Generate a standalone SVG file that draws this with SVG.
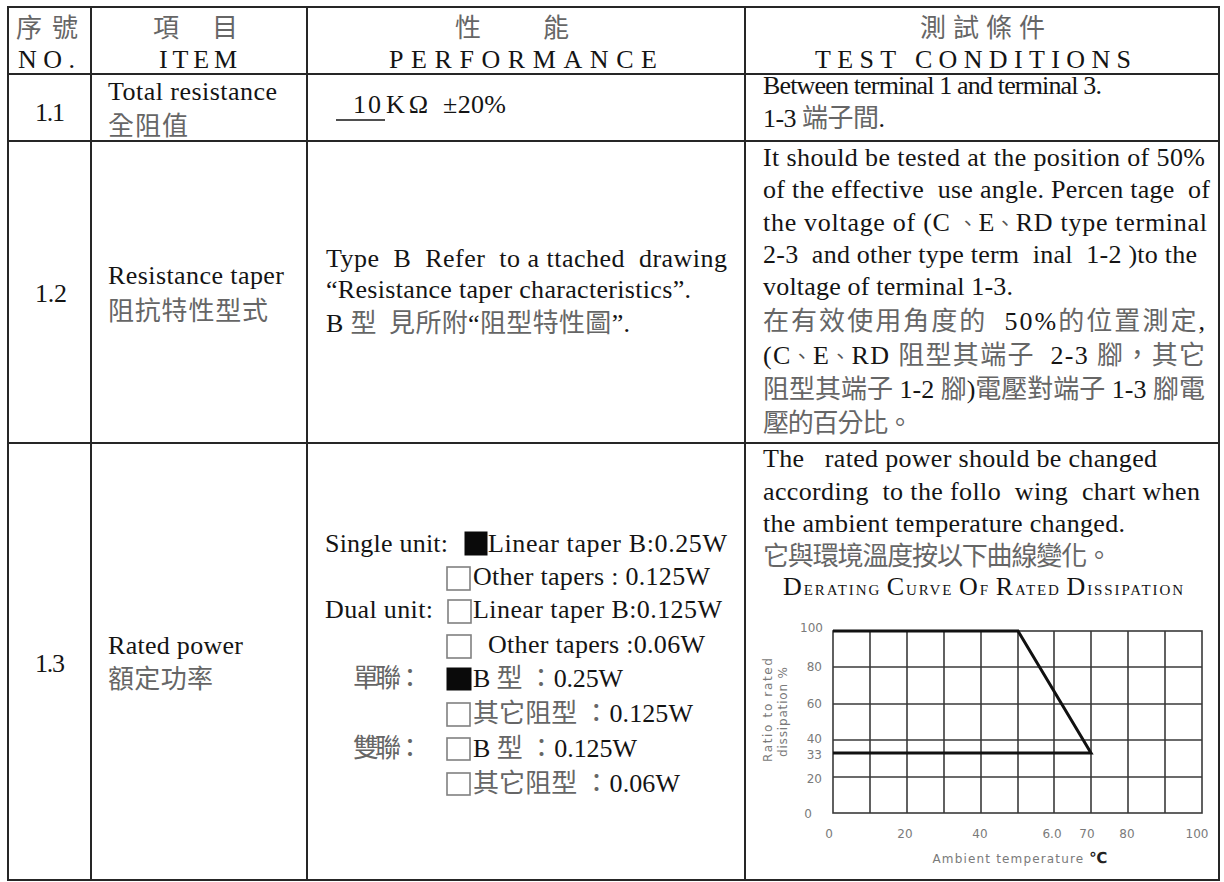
<svg xmlns="http://www.w3.org/2000/svg" width="1224" height="882" viewBox="0 0 1224 882">
<style>
.ln{stroke:#262626;stroke-width:2;fill:none}
.en{font-family:"Liberation Serif","Times New Roman",serif;font-size:26px;fill:#141414}
.zh{font-family:"Noto Sans CJK TC","Noto Sans CJK SC",sans-serif;font-size:26px;fill:#666}
.pu{font-family:"Noto Sans CJK TC","Noto Sans CJK SC",sans-serif;font-size:20px;fill:#555}
.pre{white-space:pre}
.cb{fill:#fff;stroke:#808080;stroke-width:1.6}
.cbf{fill:#0a0a0a;stroke:#0a0a0a;stroke-width:1}
.grid{stroke:#3a3a3a;stroke-width:1.6;fill:none}
.curve{stroke:#111;stroke-width:3;fill:none;stroke-linejoin:miter}
.ax{font-family:"DejaVu Sans",sans-serif;font-size:12px;fill:#7a7a7a}
</style>
<rect width="1224" height="882" fill="#fff"/>
<g id="table-lines">
<rect class="ln" x="8" y="7" width="1211" height="873"/>
<line class="ln" x1="91" y1="7" x2="91" y2="880"/>
<line class="ln" x1="307" y1="7" x2="307" y2="880"/>
<line class="ln" x1="745" y1="7" x2="745" y2="880"/>
<line class="ln" x1="8" y1="74" x2="1219" y2="74"/>
<line class="ln" x1="8" y1="141" x2="1219" y2="141"/>
<line class="ln" x1="8" y1="443" x2="1219" y2="443"/>
</g>
<g id="header">
<text class="zh" x="16" y="37" font-size="25" textLength="62" fill="#777">序號</text>
<text class="en" x="18" y="68" textLength="57">NO.</text>
<text class="zh" x="153" y="37" font-size="25" fill="#777">項</text>
<text class="zh" x="212" y="37" font-size="25" fill="#777">目</text>
<text class="en" x="159" y="68" textLength="78">ITEM</text>
<text class="zh" x="455" y="37" font-size="25" fill="#777">性</text>
<text class="zh" x="543" y="37" font-size="25" fill="#777">能</text>
<text class="en" x="389" y="68" textLength="268">PERFORMANCE</text>
<text class="zh" x="920" y="37" font-size="25" textLength="125" fill="#777">測試條件</text>
<text class="en" x="815" y="68" textLength="316">TEST CONDITIONS</text>
</g>
<g id="row-1-1">
<text class="en" x="35" y="121" textLength="30">1.1</text>
<text class="en" x="108" y="100" textLength="169">Total resistance</text>
<text class="zh" x="108" y="135" textLength="80">全阻值</text>
<line x1="336" y1="120" x2="385" y2="120" stroke="#141414" stroke-width="1.6"/>
<text class="en" x="353" y="113" textLength="28">10</text>
<text class="en" x="386" y="113" textLength="42">KΩ</text>
<text class="en" x="443" y="113" font-size="22" textLength="63">±20%</text>
<text class="en" x="763" y="94" font-size="24" textLength="339">Between terminal 1 and terminal 3.</text>
<text class="en" x="763" y="127" textLength="122">1-3 <tspan class="zh">端子間</tspan>.</text>
</g>
<g id="row-1-2">
<text class="en" x="35" y="302" textLength="32">1.2</text>
<text class="en" x="108" y="284" textLength="176">Resistance taper</text>
<text class="zh" x="108" y="320" font-size="25" textLength="160">阻抗特性型式</text>
<text class="en pre" x="326" y="267" textLength="401">Type  B  Refer  to a ttached  drawing</text>
<text class="en" x="326" y="298" textLength="365">“Resistance taper characteristics”.</text>
<text class="en pre" x="326" y="332" textLength="304">B <tspan class="zh">型  見所附</tspan>“<tspan class="zh">阻型特性圖</tspan>”.</text>
<text class="en" x="763" y="166" textLength="442">It should be tested at the position of 50%</text>
<text class="en pre" x="763" y="198" textLength="447">of the effective  use angle. Percen tage  of</text>
<text class="en pre" x="763" y="231" textLength="444">the voltage of (C <tspan class="pu">、</tspan>E<tspan class="pu">、</tspan>RD type terminal</text>
<text class="en pre" x="763" y="263" textLength="434">2-3  and other type term  inal  1-2 )to the</text>
<text class="en" x="763" y="295" textLength="250">voltage of terminal 1-3.</text>
<text class="en pre" x="763" y="330" textLength="442"><tspan class="zh">在有效使用角度的</tspan>  50%<tspan class="zh">的位置測定</tspan>,</text>
<text class="en pre" x="763" y="364" textLength="442">(C<tspan class="pu">、</tspan>E<tspan class="pu">、</tspan>RD <tspan class="zh">阻型其端子</tspan>  2-3 <tspan class="zh">腳，其它</tspan></text>
<text class="en pre" x="763" y="398" textLength="442"><tspan class="zh">阻型其端子</tspan> 1-2 <tspan class="zh">腳</tspan>)<tspan class="zh">電壓對端子</tspan> 1-3 <tspan class="zh">腳電</tspan></text>
<text class="zh" x="763" y="432" font-size="25" textLength="150">壓的百分比。</text>
</g>
<g id="row-1-3">
<text class="en" x="35" y="672" textLength="30">1.3</text>
<text class="en" x="108" y="654" textLength="135">Rated power</text>
<text class="zh" x="108" y="688" textLength="105">額定功率</text>
<text class="en" x="325" y="552" textLength="123">Single unit:</text>
<rect class="cbf" x="465" y="532" width="22" height="23"/>
<text class="en" x="488" y="552" textLength="239">Linear taper B:0.25W</text>
<rect class="cb" x="447" y="567" width="23" height="23"/>
<text class="en" x="473" y="585" textLength="237">Other tapers : 0.125W</text>
<text class="en" x="325" y="618" textLength="108">Dual unit:</text>
<rect class="cb" x="448" y="600" width="23" height="23"/>
<text class="en" x="473" y="618" textLength="249">Linear taper B:0.125W</text>
<rect class="cb" x="447" y="635" width="24" height="23"/>
<text class="en" x="488" y="653" textLength="217">Other tapers :0.06W</text>
<text class="zh" x="353" y="687" font-size="23" textLength="70" fill="#777">單聯：</text>
<rect class="cbf" x="447" y="668" width="24" height="22"/>
<text class="en pre" x="473" y="687" textLength="150">B <tspan class="zh">型 ：</tspan>0.25W</text>
<rect class="cb" x="447" y="703" width="23" height="23"/>
<text class="en pre" x="473" y="722" textLength="220"><tspan class="zh">其它阻型 ：</tspan>0.125W</text>
<text class="zh" x="353" y="757" font-size="23" textLength="70" fill="#777">雙聯：</text>
<rect class="cb" x="447" y="738" width="23" height="22"/>
<text class="en pre" x="473" y="757" textLength="164">B <tspan class="zh">型 ：</tspan>0.125W</text>
<rect class="cb" x="447" y="773" width="23" height="22"/>
<text class="en pre" x="473" y="792" textLength="207"><tspan class="zh">其它阻型 ：</tspan>0.06W</text>
<text class="en pre" x="763" y="467" textLength="394">The   rated power should be changed</text>
<text class="en pre" x="763" y="500" textLength="437">according  to the follo  wing  chart when</text>
<text class="en" x="763" y="532" textLength="362">the ambient temperature changed.</text>
<text class="zh" x="763" y="565" font-size="24" textLength="349">它與環境溫度按以下曲線變化。</text>
<text class="en" x="783" y="595" textLength="400" font-size="19"><tspan>D</tspan><tspan font-size="15">ERATING </tspan><tspan>C</tspan><tspan font-size="15">URVE </tspan><tspan>O</tspan><tspan font-size="15">F </tspan><tspan>R</tspan><tspan font-size="15">ATED </tspan><tspan>D</tspan><tspan font-size="15">ISSIPATION</tspan></text>
</g>
<g id="derating-chart">
<g class="grid">
<rect x="833" y="631" width="369" height="182"/>
<line x1="870" y1="631" x2="870" y2="813"/>
<line x1="907" y1="631" x2="907" y2="813"/>
<line x1="944" y1="631" x2="944" y2="813"/>
<line x1="981" y1="631" x2="981" y2="813"/>
<line x1="1018" y1="631" x2="1018" y2="813"/>
<line x1="1054" y1="631" x2="1054" y2="813"/>
<line x1="1091" y1="631" x2="1091" y2="813"/>
<line x1="1128" y1="631" x2="1128" y2="813"/>
<line x1="1165" y1="631" x2="1165" y2="813"/>
<line x1="833" y1="667" x2="1202" y2="667"/>
<line x1="833" y1="704" x2="1202" y2="704"/>
<line x1="833" y1="740" x2="1202" y2="740"/>
<line x1="833" y1="777" x2="1202" y2="777"/>
</g>
<path class="curve" d="M833,631 L1018,631 L1091,753 L833,753"/>
<g class="ax" text-anchor="end">
<text x="823" y="632">100</text>
<text x="822" y="671">80</text>
<text x="822" y="708">60</text>
<text x="822" y="743">40</text>
<text x="822" y="759">33</text>
<text x="822" y="783">20</text>
<text x="812" y="818">0</text>
</g>
<g class="ax" text-anchor="middle">
<text x="829" y="838">0</text>
<text x="905" y="838">20</text>
<text x="980" y="838">40</text>
<text x="1052" y="838">6.0</text>
<text x="1087" y="838">70</text>
<text x="1127" y="838">80</text>
<text x="1197" y="838">100</text>
<text x="1020" y="863" textLength="175">Ambient temperature <tspan fill="#222" font-weight="bold" font-size="15">℃</tspan></text>
<text transform="translate(772,710) rotate(-90)" textLength="104">Ratio to rated</text>
<text transform="translate(787,712) rotate(-90)" textLength="90">dissipation %</text>
</g>
</g>
</svg>
